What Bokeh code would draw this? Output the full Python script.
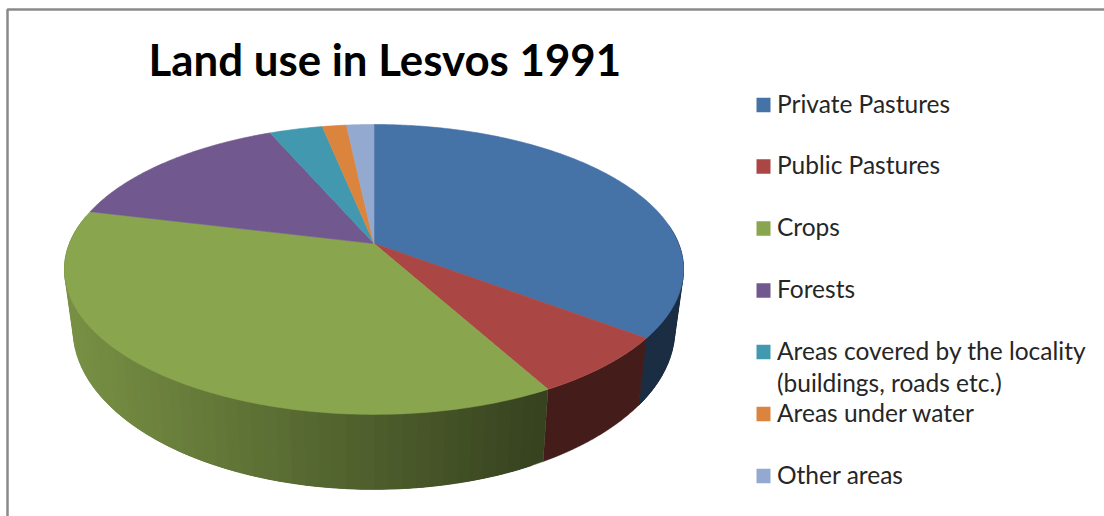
import numpy as np
from bokeh.core.properties import value
from bokeh.embed import file_html
from bokeh.models import Range1d
from bokeh.plotting import figure
from bokeh.resources import INLINE

TITLE = "Land use in Lesvos 1991"
categories = ["Private Pastures", "Public Pastures", "Crops", "Forests",
              "Areas covered by the locality", "Areas under water", "Other areas"]
second_line = ["", "", "", "", "(buildings, roads etc.)", "", ""]
shares = [35.3, 6.7, 36.8, 14.7, 3.3, 1.5, 1.7]
colors = ["#4572A7", "#AA4643", "#89A54E", "#71588F", "#4198AF", "#DB843D", "#93A9CF"]

# Layout, in page pixels
CX, CY = 373.5, 243.0
PERSP = 0.179
TOP_K, TOP_S = 304.5, 140.3
BOT_K, BOT_S, BOT_Y = 296.0, 155.0, 300.0
legend_y = [104.5, 166, 228, 290, 351.5, 413.5, 475.5]
TEXT_DY = -2
LINE2_DY = 32


def project(theta, k, s, y0):
    u, v = np.sin(theta), np.cos(theta)
    w = 1 + PERSP * v
    return CX + k * u / w, y0 - s * v / w


edges = np.cumsum([0] + shares) / sum(shares) * 2 * np.pi

p = figure(width=1104, height=516, output_backend="svg", toolbar_location=None,
           x_range=Range1d(0, 1104), y_range=Range1d(516, 0),
           min_border=0, outline_line_color=None)
p.axis.visible = False
p.grid.visible = False

# Frame of the chart
p.line([7, 7, 1104], [516, 9, 9], line_color="#8a8a8a", line_width=2.5)


def shade(x):
    return np.interp(x, [64, 545], [0.88, 0.40])


# Side wall: whole pieces where the shade is constant, overlapping strips where it runs
wx, wy, wc = [], [], []
for i, col in enumerate(colors):
    rgb = np.array([int(col[j:j + 2], 16) for j in (1, 3, 5)])
    t = np.linspace(edges[i], edges[i + 1], 121)
    xt, yt = project(t, TOP_K, TOP_S, CY)
    xb, yb = project(t, BOT_K, BOT_S, BOT_Y)
    if xt.min() >= 545:
        wx.append(list(xt) + list(xb[::-1]))
        wy.append(list(yt) + list(yb[::-1]))
        wc.append("#%02x%02x%02x" % tuple((rgb * 0.40).astype(int)))
    else:
        step = 2
        for j in range(0, 120, step):
            if np.cos(t[j]) > 0.1 and np.cos(t[min(j + step, 120)]) > 0.1:
                continue
            end = min(j + 3 * step, 120) + 1
            wx.append(list(xt[j:end]) + list(xb[j:end][::-1]))
            wy.append(list(yt[j:end]) + list(yb[j:end][::-1]))
            c = (rgb * shade(xt[j:j + step + 1].mean())).astype(int)
            wc.append("#%02x%02x%02x" % tuple(c))
p.patches(wx, wy, fill_color=wc, line_color=wc, line_width=0.4)

# Top face
fx, fy = [], []
for i in range(len(shares)):
    n = max(3, int((edges[i + 1] - edges[i]) * 90))
    t = np.linspace(edges[i], edges[i + 1], n + 1)
    x, y = project(t, TOP_K, TOP_S, CY)
    fx.append([CX] + list(x))
    fy.append([CY] + list(y))
p.patches(fx, fy, fill_color=colors, line_color=colors, line_width=0.6)

# Title
p.text([148], [58], text=[TITLE], text_font=value("Lato"), text_font_style="bold",
       text_font_size="43.8px", text_color="#000000", text_baseline="alphabetic")

# Legend
p.rect([763] * 7, legend_y, width=14, height=14.5, fill_color=colors, line_color=None)
p.text([776.5] * 7, [y + TEXT_DY for y in legend_y], text=categories, text_font=value("Lato"),
       text_font_size="24.5px", text_color="#262626", text_baseline="alphabetic")
p.text([776.5], [legend_y[4] + TEXT_DY + LINE2_DY], text=[second_line[4]], text_font=value("Lato"),
       text_font_size="24.5px", text_color="#262626", text_baseline="alphabetic")

open("out.html", "w").write(file_html(p, INLINE))
